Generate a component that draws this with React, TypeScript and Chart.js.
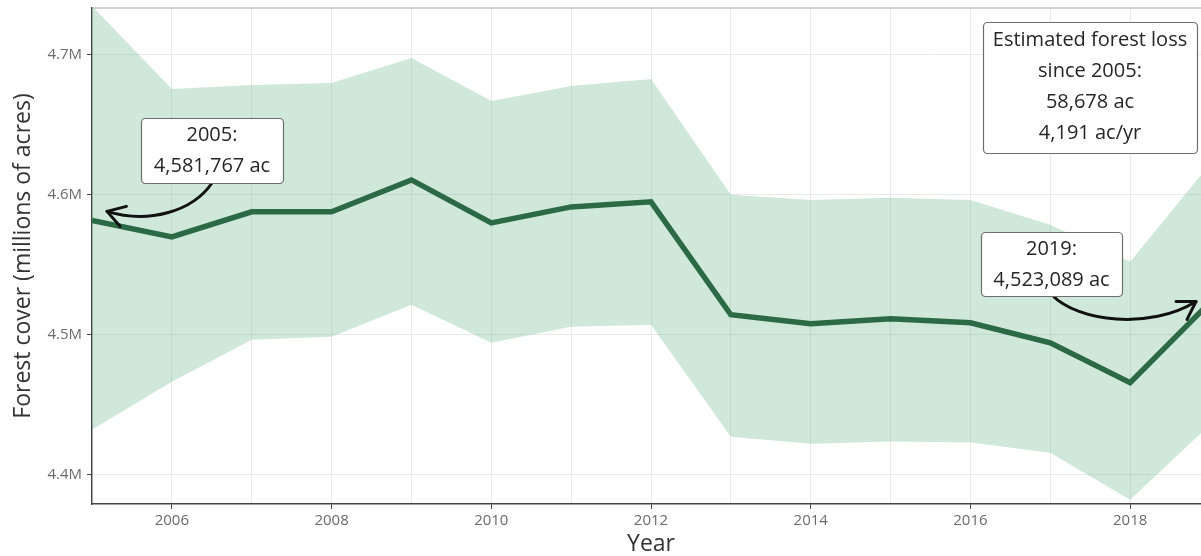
import React, { useEffect, useRef } from "react";
import { Chart, registerables } from "chart.js";

Chart.register(...registerables);

const years = [2005, 2006, 2007, 2008, 2009, 2010, 2011, 2012, 2013, 2014, 2015, 2016, 2017, 2018, 2019];
const forestCover = [4.581767, 4.57, 4.5879, 4.5879, 4.6107, 4.58, 4.5914, 4.595, 4.5143, 4.5079, 4.5114, 4.5086, 4.4943, 4.4657, 4.523089];
const upperBound = [4.735, 4.6757, 4.6786, 4.68, 4.6979, 4.6671, 4.6779, 4.6829, 4.6, 4.5964, 4.5979, 4.5964, 4.5786, 4.5521, 4.6221];
const lowerBound = [4.4321, 4.4664, 4.4964, 4.4986, 4.5214, 4.4943, 4.5057, 4.5071, 4.4271, 4.4221, 4.4236, 4.4229, 4.4157, 4.3821, 4.4357];
const yTicks = [4.4, 4.5, 4.6, 4.7];
const xTitle = "Year";
const yTitle = "Forest cover (millions of acres)";
const box2005 = ["2005:", "4,581,767 ac"];
const box2019 = ["2019:", "4,523,089 ac"];
const lossBox = ["Estimated forest loss", "since 2005:", "58,678 ac", "4,191 ac/yr"];

const FONT = "'Open Sans', 'DejaVu Sans', sans-serif";

function drawBox(ctx: CanvasRenderingContext2D, left: number, top: number, w: number, h: number, lines: string[], firstY: number, step: number) {
  ctx.save();
  ctx.beginPath();
  (ctx as any).roundRect(left + 0.5, top + 0.5, w, h, 4);
  ctx.fillStyle = "#ffffff";
  ctx.fill();
  ctx.strokeStyle = "#6e6e6e";
  ctx.lineWidth = 1.2;
  ctx.stroke();
  ctx.fillStyle = "#262626";
  ctx.font = `20px ${FONT}`;
  ctx.textAlign = "center";
  ctx.textBaseline = "middle";
  lines.forEach((t, i) => ctx.fillText(t, left + w / 2, firstY + i * step));
  ctx.restore();
}

function drawArrow(ctx: CanvasRenderingContext2D, p0: number[], c1: number[], c2: number[], p1: number[]) {
  ctx.save();
  ctx.strokeStyle = "#111111";
  ctx.lineWidth = 3;
  ctx.lineCap = "round";
  ctx.lineJoin = "round";
  ctx.beginPath();
  ctx.moveTo(p0[0], p0[1]);
  ctx.bezierCurveTo(c1[0], c1[1], c2[0], c2[1], p1[0], p1[1]);
  ctx.stroke();
  const a = Math.atan2(p1[1] - c2[1], p1[0] - c2[0]);
  const L = 20;
  const s = 0.55;
  ctx.beginPath();
  ctx.moveTo(p1[0] - L * Math.cos(a - s), p1[1] - L * Math.sin(a - s));
  ctx.lineTo(p1[0], p1[1]);
  ctx.lineTo(p1[0] - L * Math.cos(a + s), p1[1] - L * Math.sin(a + s));
  ctx.stroke();
  ctx.restore();
}

const annotationPlugin = {
  id: "annotations",
  afterDraw(chart: any) {
    const { ctx, chartArea, scales } = chart;
    const xs = scales.x;
    const ys = scales.y;
    ctx.save();
    ctx.strokeStyle = "#a8a8a8";
    ctx.lineWidth = 1.2;
    ctx.beginPath();
    ctx.moveTo(chartArea.left, chartArea.top);
    ctx.lineTo(chartArea.right, chartArea.top);
    ctx.stroke();
    ctx.restore();

    const s = { x: xs.getPixelForValue(years[0]), y: ys.getPixelForValue(forestCover[0]) };
    const e = { x: xs.getPixelForValue(years[years.length - 1]), y: ys.getPixelForValue(forestCover[forestCover.length - 1]) };

    drawArrow(ctx, [212, 183], [192, 212], [148, 224], [s.x + 15, s.y - 9]);
    drawArrow(ctx, [1052, 295], [1078, 322], [1150, 330], [e.x - 14, e.y - 1]);

    drawBox(ctx, 141, 118, 142, 65, box2005, 135, 31);
    drawBox(ctx, 983, 22, 214, 131, lossBox, 40, 31);
    drawBox(ctx, 981, 232, 141, 64, box2019, 249, 31);
  },
};

export default function App() {
  const ref = useRef<HTMLCanvasElement | null>(null);
  useEffect(() => {
    if (!ref.current) return;
    const pts = (arr: number[]) => years.map((yr, i) => ({ x: yr, y: arr[i] }));
    const chart = new Chart(ref.current, {
      type: "line",
      data: {
        datasets: [
          {
            label: "Forest cover",
            data: pts(forestCover),
            borderColor: "#2c6a46",
            borderWidth: 5.5,
            borderJoinStyle: "miter",
            pointRadius: 0,
            fill: false,
            tension: 0,
          },
          {
            label: "Upper",
            data: pts(upperBound),
            borderColor: "rgba(0,0,0,0)",
            borderWidth: 0,
            pointRadius: 0,
            backgroundColor: "rgba(110,185,140,0.32)",
            fill: "+1",
            tension: 0,
          },
          {
            label: "Lower",
            data: pts(lowerBound),
            borderColor: "rgba(0,0,0,0)",
            borderWidth: 0,
            pointRadius: 0,
            fill: false,
            tension: 0,
          },
        ],
      },
      options: {
        animation: false,
        responsive: true,
        maintainAspectRatio: false,
        layout: { padding: { top: 8, left: 0, right: 1, bottom: 0 } },
        plugins: { legend: { display: false }, tooltip: { enabled: false } },
        scales: {
          x: {
            type: "linear",
            min: 2005,
            max: 2019,
            afterFit: (sc: any) => {
              sc.height = 52;
              sc.paddingLeft = 0;
              sc.paddingRight = 0;
            },
            ticks: {
              stepSize: 1,
              autoSkip: false,
              maxRotation: 0,
              padding: 3,
              color: "#6b6b6b",
              font: { family: FONT, size: 15 },
              callback: (v: any) => (Number(v) % 2 === 0 ? String(v) : ""),
            },
            grid: {
              color: "#e9e9e9",
              lineWidth: 1,
              tickLength: 5,
              tickColor: (c: any) => (c.tick && c.tick.value % 2 === 0 ? "#444444" : "rgba(0,0,0,0)"),
            },
            border: { color: "#444444", width: 1.4 },
            title: {
              display: true,
              text: xTitle,
              color: "#333333",
              font: { family: FONT, size: 23, lineHeight: 1.0 },
              padding: { top: 0, bottom: 0 },
            },
          },
          y: {
            type: "linear",
            min: 4.379,
            max: 4.7336,
            afterFit: (sc: any) => {
              sc.width = 92;
              sc.paddingTop = 0;
              sc.paddingBottom = 0;
            },
            afterBuildTicks: (sc: any) => {
              sc.ticks = yTicks.map((v) => ({ value: v }));
            },
            ticks: {
              padding: 5,
              color: "#6b6b6b",
              font: { family: FONT, size: 15 },
              callback: (v: any) => `${Number(v).toFixed(1)}M`,
            },
            grid: { color: "#e9e9e9", lineWidth: 1, tickLength: 5, tickColor: "#444444" },
            border: { color: "#444444", width: 1.4 },
            title: {
              display: true,
              text: yTitle,
              color: "#333333",
              font: { family: FONT, size: 23, lineHeight: 1.2 },
              padding: { top: 10, bottom: 0 },
            },
          },
        },
      },
      plugins: [annotationPlugin],
    });
    return () => chart.destroy();
  }, []);

  return (
    <div style={{ position: "fixed", left: 0, top: 0, width: 1201, height: 556, overflow: "hidden", background: "#fff" }}>
      <div style={{ position: "absolute", left: 0, top: 0, width: 1211, height: 556 }}>
        <canvas ref={ref} />
      </div>
    </div>
  );
}
